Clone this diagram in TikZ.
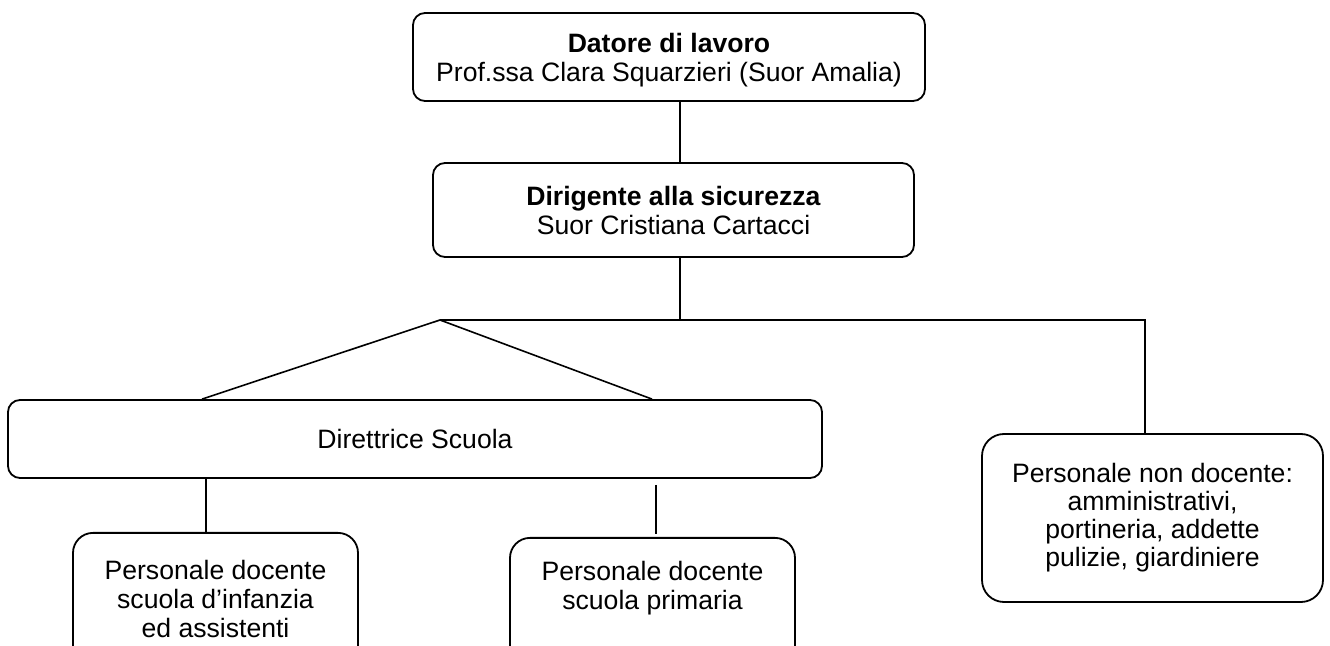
\documentclass[tikz,border=0pt]{standalone}
\usepackage{fontspec}
\setmainfont{Liberation Sans}
\tikzset{
  box/.style={
    draw,
    line width=0.9pt,
    rounded corners=6pt,
    align=center,
    inner sep=0pt,
    font=\fontsize{13.3}{14.5}\selectfont},
  link/.style={
    line width=0.8pt}
  }

\begin{document}
\begin{tikzpicture}[x=0.5pt,y=-0.5pt]
      \useasboundingbox (0,0) rectangle (1330,646);
      \clip (0,0) rectangle (1330,646);
      \node [box, minimum width=256pt, minimum height=44pt, text depth=-2.3pt] (boss) at (669,57)
        {\textbf{Datore di lavoro}\\Prof.ssa Clara Squarzieri (Suor Amalia)};
      \node [box, minimum width=240.5pt, minimum height=47pt] (safety) at (673.5,210)
        {\textbf{Dirigente alla sicurezza}\\Suor Cristiana Cartacci};
      \node [box, minimum width=407pt, minimum height=39pt] (head) at (415,439)
        {Direttrice Scuola};
      \node [box, rounded corners=11pt, minimum width=170.5pt, minimum height=84pt,
        font=\fontsize{13.3}{14}\selectfont] (staff) at (1152.5,518)
        {Personale non docente:\\amministrativi,\\portineria, addette\\pulizie, giardiniere};
      \node [box, rounded corners=10pt, anchor=north, minimum width=142.5pt,
        inner ysep=13.5pt, text depth=30pt] (infant) at (215.5,532)
        {Personale docente\\scuola d’infanzia\\ed assistenti};
      \node [box, rounded corners=10pt, anchor=north, minimum width=142.5pt,
        inner ysep=11.5pt, text depth=30pt] (primary) at (652.5,537)
        {Personale docente\\scuola primaria};
      % junctions of the connectors
      \coordinate (split) at (440,320);
      \coordinate (fork) at (680,320);
      \coordinate (bend) at (1145,320);
      \coordinate (tipl) at (202,0);
      \coordinate (tipr) at (652,0);
      \coordinate (dropl) at (206,0);
      \coordinate (dropr) at (656,0);
      \draw [link] (boss.south -| fork) to (safety.north -| fork);
      \draw [link] (safety.south -| fork) to (fork);
      \draw [link] (split) -- (bend) -- (staff.north -| bend);
      \draw [link] (split) to (head.north -| tipl);
      \draw [link] (split) to (head.north -| tipr);
      \draw [link] (head.south -| dropl) to (infant.north -| dropl);
      \draw [link, shorten <=3pt, shorten >=1.5pt] (head.south -| dropr) to (primary.north -| dropr);
    \end{tikzpicture}
\end{document}
